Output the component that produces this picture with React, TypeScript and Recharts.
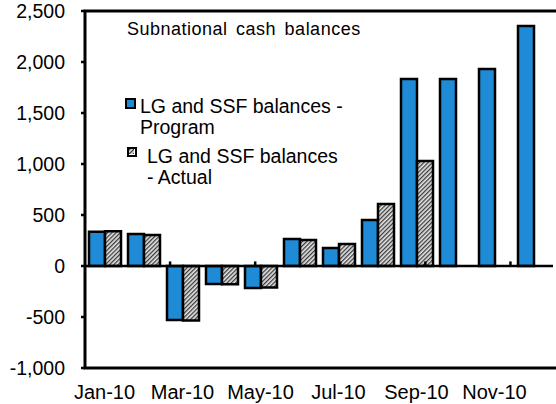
import { BarChart, Bar, XAxis, YAxis, ReferenceLine, ReferenceArea, Legend } from "recharts";

const months = ["Jan-10", "Feb-10", "Mar-10", "Apr-10", "May-10", "Jun-10", "Jul-10", "Aug-10", "Sep-10", "Oct-10", "Nov-10", "Dec-10"];
const program = [335, 314, -530, -176, -216, 265, 176, 451, 1833, 1833, 1931, 2353];
const actual = [340, 305, -535, -180, -212, 255, 216, 608, 1029, null, null, null];
const yTicks = [-1000, -500, 0, 500, 1000, 1500, 2000, 2500];
const zeroTicks = [2, 4, 6, 8, 10];
const title = "Subnational cash balances";
const programLines = ["LG and SSF balances -", "Program"];
const actualLines = ["LG and SSF balances", "- Actual"];

const BLUE = "#1f8bd6";
const FONT = "'Liberation Sans', Arial, sans-serif";

const data = months.map((m, i) => ({ month: m, program: program[i], actual: actual[i] }));

function ChartLegend() {
  const txt = { position: "absolute" as const, fontSize: 19.5, lineHeight: "21.5px", whiteSpace: "pre" as const, color: "#000" };
  return (
    <div style={{ position: "relative", width: 556, height: 0, fontFamily: FONT }}>
      <div style={{ position: "absolute", left: 125, top: 98, width: 11, height: 11, boxSizing: "border-box", border: "2.5px solid #000", background: BLUE }} />
      <div style={{ ...txt, left: 140, top: 95.5 }}>{programLines.join("\n")}</div>
      <div style={{ position: "absolute", left: 127, top: 147, width: 10, height: 10, boxSizing: "border-box", border: "2.5px solid #000" }}>
        <svg width={5} height={5} style={{ display: "block" }}><rect width={5} height={5} fill="url(#hatch)" /></svg>
      </div>
      <div style={{ ...txt, left: 147, top: 145.5 }}>{actualLines.join("\n")}</div>
    </div>
  );
}

export default function App() {
  return (
    <div style={{ position: "absolute", left: 0, top: 0, width: 556, height: 404, background: "#fff", fontFamily: FONT }}>
      <svg width={0} height={0} style={{ position: "absolute" }}>
        <defs>
          <pattern id="hatch" patternUnits="userSpaceOnUse" width={3} height={3} patternTransform="rotate(45)">
            <rect width={3} height={3} fill="#e6e6e6" />
            <rect width={1.3} height={3} fill="#3a3a3a" />
          </pattern>
        </defs>
      </svg>
      <div style={{ position: "absolute", left: 127, top: 19.8, fontSize: 18, lineHeight: "18px", letterSpacing: 0.5, wordSpacing: 3, whiteSpace: "pre", zIndex: 2 }}>{title}</div>
      <BarChart width={556} height={404} data={data} margin={{ top: 11, right: 3, bottom: 0, left: 0 }} barCategoryGap={4} barGap={0}>
        <XAxis dataKey="month" interval={1} axisLine={false} tickLine={false} tickSize={0} tickMargin={17} height={36}
          tick={{ fontSize: 20, fill: "#000", fontFamily: FONT }} />
        <XAxis xAxisId="idx" type="number" domain={[0, 12]} hide />
        <YAxis domain={[-1000, 2500]} ticks={yTicks} width={85} axisLine={false} tickSize={4} tickMargin={16}
          tickLine={{ stroke: "#000", strokeWidth: 2.5 }}
          tickFormatter={(v: number) => v.toLocaleString("en-US")}
          tick={{ fontSize: 19.5, fill: "#000", fontFamily: FONT }} />
        <Legend content={() => <ChartLegend />} wrapperStyle={{ position: "absolute", left: 0, top: 0, width: 556, height: 0 }} />
        <Bar dataKey="program" name="LG and SSF balances - Program" fill={BLUE} stroke="#000" strokeWidth={2.5} isAnimationActive={false} />
        <Bar dataKey="actual" name="LG and SSF balances - Actual" fill="url(#hatch)" stroke="#000" strokeWidth={2.5} isAnimationActive={false} />
        <ReferenceLine y={0} stroke="#000" strokeWidth={2.5} />
        {zeroTicks.map((t) => (
          <ReferenceLine key={t} xAxisId="idx" segment={[{ x: t, y: 0 }, { x: t, y: 45 }]} stroke="#000" strokeWidth={2.5} />
        ))}
        <ReferenceArea xAxisId="idx" x1={0} x2={12} y1={-1000} y2={2500} fill="none" fillOpacity={0} stroke="#000" strokeWidth={3} ifOverflow="visible" />
      </BarChart>
    </div>
  );
}
